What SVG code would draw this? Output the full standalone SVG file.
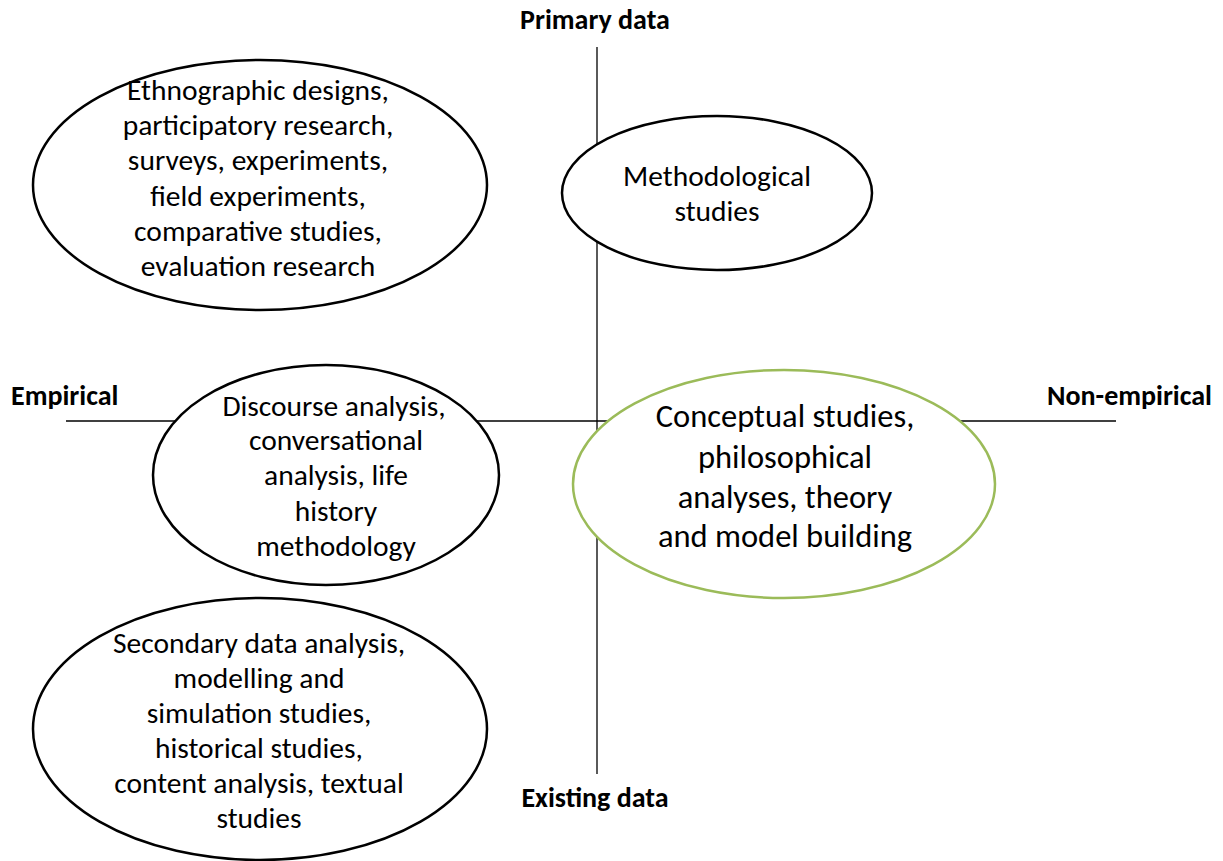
<svg xmlns="http://www.w3.org/2000/svg" width="1223" height="861" viewBox="0 0 1223 861">
<style>
.ax{stroke:#000;stroke-width:1.3;fill:none}
.el{fill:#fff;stroke:#000;stroke-width:2.5}
.elg{fill:#fff;stroke:#9bbb59;stroke-width:2.5}
.t{font-family:Carlito,Lato,"Liberation Sans",sans-serif;font-size:29.5px;text-anchor:middle;fill:#000}
.tl{font-family:Carlito,Lato,"Liberation Sans",sans-serif;font-size:32.5px;text-anchor:middle;fill:#000}
.b{font-family:Carlito,Lato,"Liberation Sans",sans-serif;font-size:28px;font-weight:bold;fill:#000}
</style>
<rect width="1223" height="861" fill="#fff"/>
<g id="connectors">
<line class="ax" x1="597" y1="47" x2="597" y2="774"/>
<line class="ax" x1="66" y1="421" x2="1116" y2="421"/>
</g>
<g id="labels">
<text class="b" x="595" y="29" text-anchor="middle">Primary data</text>
<text class="b" x="11" y="405">Empirical</text>
<text class="b" x="1212" y="405" text-anchor="end">Non-empirical</text>
<text class="b" x="595" y="807" text-anchor="middle">Existing data</text>
</g>
<g id="n-empirical-primary">
<ellipse class="el" cx="260" cy="185" rx="227" ry="125"/>
<text class="t" x="258" y="100">Ethnographic designs,</text>
<text class="t" x="258" y="135">participatory research,</text>
<text class="t" x="258" y="170">surveys, experiments,</text>
<text class="t" x="258" y="206">field experiments,</text>
<text class="t" x="258" y="241">comparative studies,</text>
<text class="t" x="258" y="276">evaluation research</text>
</g>
<g id="n-methodological">
<ellipse class="el" cx="717" cy="193" rx="155" ry="77"/>
<text class="t" x="717" y="186">Methodological</text>
<text class="t" x="717" y="221">studies</text>
</g>
<g id="n-discourse">
<ellipse class="el" cx="326" cy="475" rx="173" ry="110"/>
<text class="t" x="334" y="416">Discourse analysis,</text>
<text class="t" x="336" y="450">conversational</text>
<text class="t" x="336" y="485">analysis, life</text>
<text class="t" x="336" y="521">history</text>
<text class="t" x="336" y="556">methodology</text>
</g>
<g id="n-conceptual">
<ellipse class="elg" cx="784" cy="484" rx="211" ry="114"/>
<text class="tl" x="785" y="427">Conceptual studies,</text>
<text class="tl" x="785" y="468">philosophical</text>
<text class="tl" x="785" y="508">analyses, theory</text>
<text class="tl" x="785" y="547">and model building</text>
</g>
<g id="n-secondary">
<ellipse class="el" cx="260" cy="729" rx="227" ry="131"/>
<text class="t" x="259" y="653">Secondary data analysis,</text>
<text class="t" x="259" y="688">modelling and</text>
<text class="t" x="259" y="723">simulation studies,</text>
<text class="t" x="259" y="758">historical studies,</text>
<text class="t" x="259" y="793">content analysis, textual</text>
<text class="t" x="259" y="828">studies</text>
</g>
</svg>
